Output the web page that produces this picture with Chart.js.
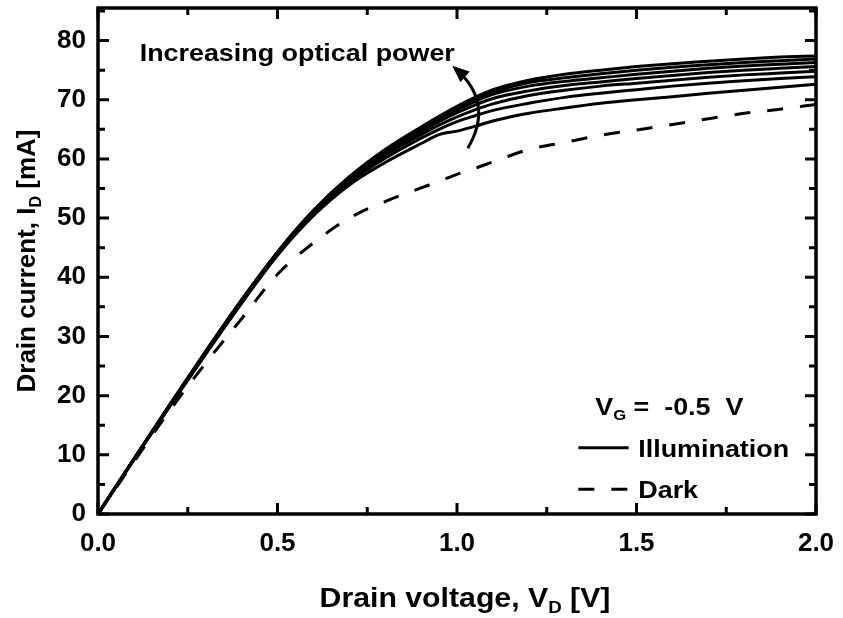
<!DOCTYPE html>
<html>
<head>
    <meta charset="utf-8">
    <title>Drain current vs drain voltage</title>
    <script src="https://cdn.jsdelivr.net/npm/chart.js"></script>
    <style>
        * { margin: 0; padding: 0; }
        body { background: #fff; }
        .chartBox { width: 843px; height: 618px; }
    </style>
</head>
<body>
<div class="chartBox"><canvas id="chart"></canvas></div>
<script>
    // drain voltage points [V]
    const vd = [0, 0.1, 0.2, 0.3, 0.4, 0.5, 0.6, 0.7, 0.8, 0.9, 0.95, 1.0, 1.05, 1.1, 1.2, 1.3, 1.4, 1.5, 1.6, 1.7, 1.8, 1.9, 2.0];

    // drain current [mA], illumination, lowest to highest optical power
    const illum1 = [0, 9.2, 18.2, 27.0, 35.6, 43.7, 50.4, 55.6, 59.4, 62.6, 64.1, 64.7, 65.5, 66.4, 67.7, 68.6, 69.4, 70.0, 70.5, 71.1, 71.6, 72.1, 72.6];
    const illum2 = [0, 9.2, 18.3, 27.1, 35.7, 43.8, 50.6, 56.0, 60.1, 63.5, 65.0, 66.3, 67.3, 68.2, 69.4, 70.4, 71.1, 71.7, 72.3, 72.8, 73.2, 73.6, 73.9];
    const illum3 = [0, 9.3, 18.3, 27.2, 35.8, 43.9, 50.8, 56.3, 60.6, 64.1, 65.7, 67.1, 68.3, 69.3, 70.7, 71.6, 72.3, 72.8, 73.3, 73.8, 74.2, 74.5, 74.8];
    const illum4 = [0, 9.3, 18.4, 27.3, 36.0, 44.0, 51.0, 56.5, 60.9, 64.6, 66.3, 67.8, 69.1, 70.2, 71.5, 72.4, 73.0, 73.6, 74.1, 74.6, 75.0, 75.3, 75.6];
    const illum5 = [0, 9.3, 18.4, 27.4, 36.1, 44.1, 51.1, 56.7, 61.2, 64.9, 66.7, 68.3, 69.7, 70.9, 72.3, 73.1, 73.7, 74.3, 74.8, 75.3, 75.7, 76.0, 76.3];
    const illum6 = [0, 9.3, 18.5, 27.5, 36.2, 44.2, 51.2, 56.9, 61.4, 65.2, 67.0, 68.6, 70.1, 71.3, 72.9, 73.7, 74.4, 75.0, 75.5, 75.9, 76.3, 76.6, 76.9];
    const illum7 = [0, 9.3, 18.5, 27.5, 36.2, 44.3, 51.3, 57.0, 61.6, 65.4, 67.2, 68.9, 70.4, 71.7, 73.3, 74.3, 75.0, 75.6, 76.1, 76.5, 76.9, 77.2, 77.4];

    // dark current [mA]
    const dark = [0, 8.8, 17.5, 25.5, 33.0, 40.5, 45.8, 50.0, 52.8, 55.1, 56.2, 57.4, 58.4, 59.5, 61.6, 62.8, 64.0, 64.9, 65.8, 66.8, 67.7, 68.4, 69.2];

    const illumSeries = [illum1, illum2, illum3, illum4, illum5, illum6, illum7];

    const xTicks = [0, 0.5, 1.0, 1.5, 2.0];
    const yTicks = [0, 10, 20, 30, 40, 50, 60, 70, 80];

    const legendLabels = ['Illumination', 'Dark'];

    const FONT = '"Liberation Sans", Arial, sans-serif';
    const SX = 1.12; // text in the figure is slightly wide

    function pts(ys) {
        return vd.map((v, i) => ({ x: v, y: ys[i] }));
    }

    const datasets = illumSeries.map((s, i) => ({
        label: legendLabels[0] + ' ' + (i + 1),
        data: pts(s),
        borderColor: '#000',
        borderWidth: 3,
        pointRadius: 0,
        fill: false,
        cubicInterpolationMode: 'monotone'
    }));
    datasets.push({
        label: legendLabels[1],
        data: pts(dark),
        borderColor: '#000',
        borderWidth: 3,
        borderDash: [16, 17],
        pointRadius: 0,
        fill: false,
        cubicInterpolationMode: 'monotone'
    });

    // frame, inward ticks, titles and annotations
    const decor = {
        id: 'decor',
        afterDraw(chart) {
            const ctx = chart.ctx;
            const a = chart.chartArea;
            const xs = chart.scales.x, ys = chart.scales.y;
            const px = v => xs.getPixelForValue(v);
            const py = v => ys.getPixelForValue(v);

            ctx.save();
            ctx.strokeStyle = '#000';
            ctx.fillStyle = '#000';
            ctx.lineWidth = 3;
            ctx.lineCap = 'butt';

            // ticks on all four sides
            for (let v = 0; v <= 2.0001; v += 0.25) {
                const major = Math.abs(v * 2 - Math.round(v * 2)) < 1e-6;
                const len = major ? 11 : 7;
                const x = px(v);
                ctx.beginPath();
                ctx.moveTo(x, a.bottom); ctx.lineTo(x, a.bottom - len);
                ctx.moveTo(x, a.top); ctx.lineTo(x, a.top + len);
                ctx.stroke();
            }
            for (let v = 0; v <= 85; v += 5) {
                const len = v % 10 === 0 ? 11 : 7;
                const y = py(v);
                ctx.beginPath();
                ctx.moveTo(a.left, y); ctx.lineTo(a.left + len, y);
                ctx.moveTo(a.right, y); ctx.lineTo(a.right - len, y);
                ctx.stroke();
            }
            ctx.lineWidth = 3.5;
            ctx.strokeRect(a.left, a.top, a.right - a.left, a.bottom - a.top);

            // text with subscripts; align 'center' or 'left' at x, stretched by sx
            function subText(parts, x, y, size, align, sx) {
                let w = 0;
                parts.forEach(p => {
                    ctx.font = 'bold ' + (p[1] ? size * 0.62 : size) + 'px ' + FONT;
                    w += ctx.measureText(p[0]).width;
                });
                ctx.save();
                ctx.translate(x, y);
                ctx.scale(sx, 1);
                let cx = align === 'center' ? -w / 2 : 0;
                ctx.textAlign = 'left';
                ctx.textBaseline = 'alphabetic';
                parts.forEach(p => {
                    ctx.font = 'bold ' + (p[1] ? size * 0.62 : size) + 'px ' + FONT;
                    ctx.fillText(p[0], cx, p[1] ? size * 0.22 : 0);
                    cx += ctx.measureText(p[0]).width;
                });
                ctx.restore();
            }
            subText([['Drain voltage, V', false], ['D', true], [' [V]', false]], (a.left + a.right) / 2 + 8, 607, 27, 'center', SX);
            ctx.save();
            ctx.translate(35, (a.top + a.bottom) / 2);
            ctx.rotate(-Math.PI / 2);
            subText([['Drain current, I', false], ['D', true], [' [mA]', false]], 0, 0, 26, 'center', 1);
            ctx.restore();

            // annotation text and curved arrow
            subText([['Increasing optical power', false]], px(0.555), py(78) + 9, 24, 'center', SX);

            const t0 = { x: px(1.03), y: py(61.8) };
            const c = { x: px(1.105), y: py(69.5) };
            const t1 = { x: px(0.995), y: py(75.3) };
            ctx.lineWidth = 3;
            ctx.beginPath();
            ctx.moveTo(t0.x, t0.y);
            ctx.quadraticCurveTo(c.x, c.y, t1.x, t1.y);
            ctx.stroke();
            const ang = Math.atan2(t1.y - c.y, t1.x - c.x);
            const hl = 13, hw = 7;
            ctx.beginPath();
            ctx.moveTo(t1.x + Math.cos(ang) * 4, t1.y + Math.sin(ang) * 4);
            ctx.lineTo(t1.x - Math.cos(ang) * hl + Math.sin(ang) * hw, t1.y - Math.sin(ang) * hl - Math.cos(ang) * hw);
            ctx.lineTo(t1.x - Math.cos(ang) * hl - Math.sin(ang) * hw, t1.y - Math.sin(ang) * hl + Math.cos(ang) * hw);
            ctx.closePath();
            ctx.fill();

            // gate voltage note
            subText([['V', false], ['G', true], [' =  -0.5  V', false]], px(1.385), py(18.3) + 9, 24, 'left', SX);

            // legend
            ctx.lineWidth = 3;
            ctx.beginPath();
            ctx.moveTo(px(1.338), py(11.2)); ctx.lineTo(px(1.478), py(11.2));
            ctx.stroke();
            ctx.setLineDash([16, 17]);
            ctx.beginPath();
            ctx.moveTo(px(1.338), py(4.2)); ctx.lineTo(px(1.478), py(4.2));
            ctx.stroke();
            ctx.setLineDash([]);
            subText([[legendLabels[0], false]], px(1.505), py(11.2) + 9, 24, 'left', SX);
            subText([[legendLabels[1], false]], px(1.505), py(4.2) + 9, 24, 'left', SX);
            ctx.restore();
        }
    };

    const config = {
        type: 'line',
        data: { datasets },
        options: {
            responsive: true,
            maintainAspectRatio: false,
            animation: false,
            devicePixelRatio: 1,
            layout: { padding: { left: 0, right: 27, top: 8, bottom: 0 } },
            plugins: { legend: { display: false }, tooltip: { enabled: false } },
            scales: {
                x: {
                    type: 'linear',
                    min: 0,
                    max: 2.0,
                    grid: { display: false, drawTicks: false },
                    border: { display: false },
                    afterBuildTicks: s => { s.ticks = xTicks.map(v => ({ value: v })); },
                    afterFit: s => { s.height = 104; s.paddingLeft = 0; s.paddingRight = 0; },
                    ticks: {
                        padding: 14,
                        color: '#000',
                        maxRotation: 0,
                        font: { family: FONT, size: 26, weight: 'bold' },
                        callback: v => Number(v).toFixed(1)
                    }
                },
                y: {
                    min: 0,
                    max: 85.5,
                    grid: { display: false, drawTicks: false },
                    border: { display: false },
                    afterBuildTicks: s => { s.ticks = yTicks.map(v => ({ value: v })); },
                    afterFit: s => { s.width = 98; s.paddingTop = 0; s.paddingBottom = 0; },
                    ticks: {
                        padding: 12,
                        color: '#000',
                        font: { family: FONT, size: 26, weight: 'bold' }
                    }
                }
            }
        },
        plugins: [decor]
    };

    const chart = new Chart(document.getElementById('chart'), config);
</script>
</body>
</html>
